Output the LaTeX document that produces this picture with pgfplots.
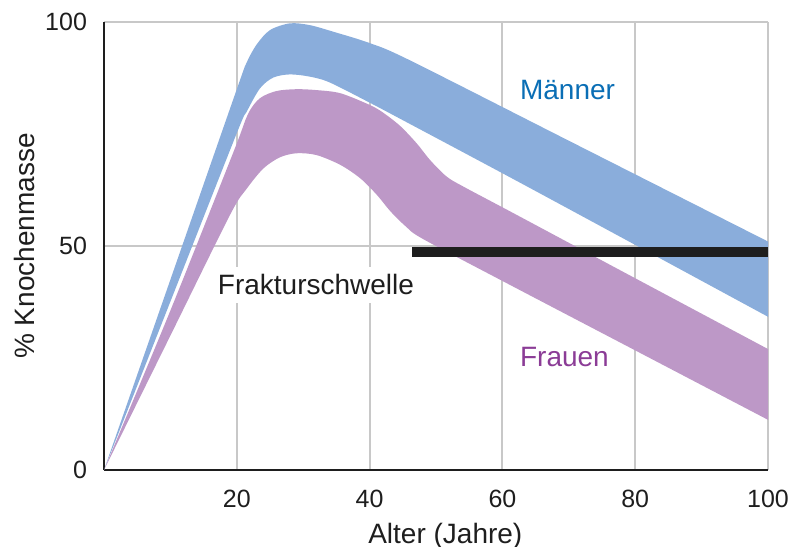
\documentclass[border=0pt]{standalone}
\usepackage{fontspec}
\setmainfont{Liberation Sans}
\usepackage{pgfplots}
\pgfplotsset{compat=1.18}
\usepgfplotslibrary{fillbetween}
\definecolor{menfill}{HTML}{8AADDB}
\definecolor{womfill}{HTML}{BD98C7}
\definecolor{mentext}{HTML}{0A6EB5}
\definecolor{womtext}{HTML}{8B3C96}
\definecolor{gridc}{HTML}{C8C8C8}
\definecolor{axc}{HTML}{1E1E1E}
\begin{document}
\begin{tikzpicture}
\begin{axis}[
 scale only axis, width=332pt, height=224pt,
 at={(0,0)}, anchor=south west,
 xmin=0,xmax=100,ymin=0,ymax=100,
 axis x line*=bottom, axis y line*=left,
 axis line style={-, line width=1.25pt, color=axc},
 xtick={20,40,60,80,100}, ytick={0,50,100},
 major tick length=0pt,
 grid=major, major grid style={line width=1pt, color=gridc},
 /pgf/number format/assume math mode=true,
 ticklabel style={font=\fontsize{12.5}{15}\selectfont, text=axc},
 xticklabel style={anchor=base, yshift=-18.5pt},
 yticklabel style={anchor=east, xshift=-5pt},
 xlabel={Alter (Jahre)}, ylabel={\% Knochenmasse},
 label style={font=\fontsize{14}{16}\selectfont, text=axc},
 xlabel style={at={(axis description cs:0.514,-0.163)}, anchor=base},
 ylabel style={at={(axis description cs:-0.12,0.5)}, anchor=center},
]
% Maenner upper / lower
\addplot[draw=none, smooth, tension=0.5, name path=MU, forget plot] coordinates {
(0,0) (10,42.5) (20,85) (21.5,91) (23,95) (25,98.2) (28,99.7) (31,99.3) (34.6,97.8) (40,95.3) (46,91.5) (70,73.5) (100,51)};
\addplot[draw=none, smooth, tension=0.5, name path=ML, forget plot] coordinates {
(0,0) (10,37.6) (20,75.2) (21.5,80) (23.5,85.2) (25.5,87.6) (28,88.3) (31,87.8) (34,86.5) (40,82) (44.6,78.4) (64.2,62.9) (100,34.2)};
% Frauen upper / lower
\addplot[draw=none, smooth, tension=0.5, name path=WU, forget plot] coordinates {
(0,0) (10,35.6) (19.5,71) (21.7,79.5) (23.5,83) (26,84.6) (29,85) (32,84.8) (35.6,84.1) (40,81.5) (42,79.8) (44.6,76.8) (47.1,72.9) (49.1,69.2) (51.6,65.5) (54.2,63.2) (61.7,57.3) (80,42.8) (100,27)};
\addplot[draw=none, smooth, tension=0.5, name path=WL, forget plot] coordinates {
(0,0) (10,30) (19,57) (21.5,62.8) (24,67.3) (26.5,69.8) (29,70.7) (32,70.3) (35.6,68.1) (38.6,65.1) (41.1,61.4) (43.1,57.8) (45.5,54.3) (48,51.6) (60,42.2) (80,26.7) (100,11.2)};
\addplot[fill=menfill, draw=none, forget plot] fill between[of=MU and ML];
\addplot[fill=womfill, draw=none, forget plot] fill between[of=WU and WL];
% Frakturschwelle
\addplot[line width=5pt, color=axc, forget plot] coordinates {(46.4,48.7) (100,48.7)};
\node[anchor=base west, fill=white, inner xsep=2pt, inner ysep=4pt, text=axc, font=\fontsize{14}{16}\selectfont] at (axis cs:16.5,39.1) {Frakturschwelle};
\node[anchor=base west, text=mentext, font=\fontsize{14}{16}\selectfont, inner sep=0pt] at (axis cs:62.6,82.6) {Männer};
\node[anchor=base west, text=womtext, font=\fontsize{14}{16}\selectfont, inner sep=0pt] at (axis cs:62.6,23.1) {Frauen};
\end{axis}
\pgfresetboundingbox
\path[use as bounding box] (-52pt,-38pt) rectangle (343pt,235pt);
\end{tikzpicture}
\end{document}
